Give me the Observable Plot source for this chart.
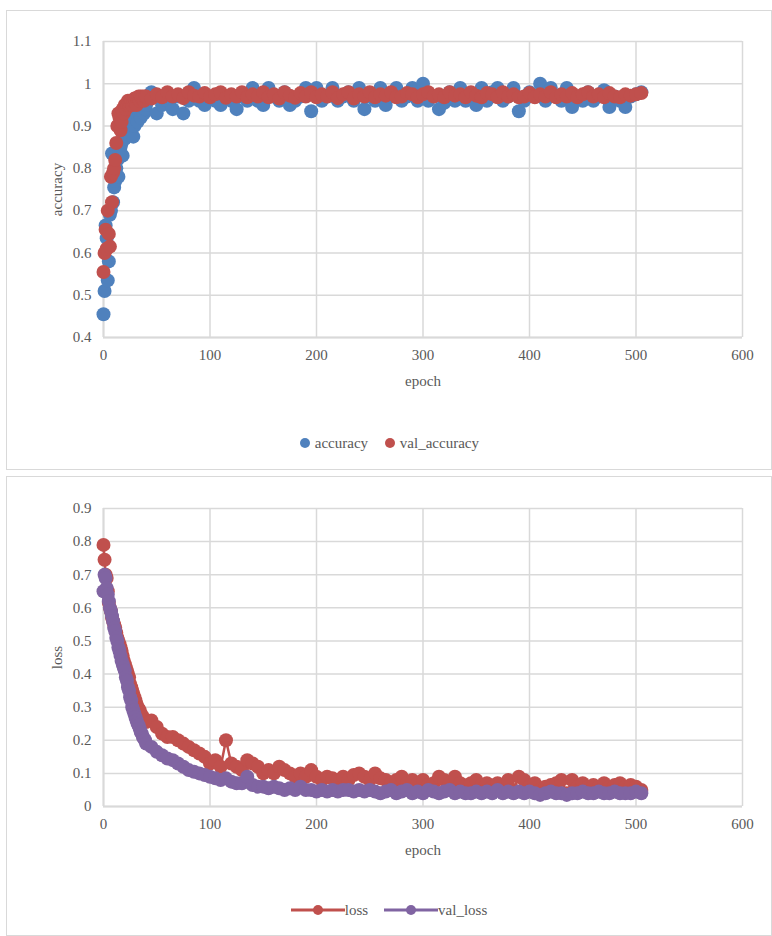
<!DOCTYPE html>
<html>
<head>
<meta charset="utf-8">
<script src="https://cdn.jsdelivr.net/npm/d3@7"></script>
<script src="https://cdn.jsdelivr.net/npm/@observablehq/plot@0.6"></script>
<style>
  body { margin: 0; background: #fff; font-family: "Liberation Serif", serif; color: #595959; }
  .box { position: absolute; left: 6px; width: 766px; height: 460px; border: 1px solid #d9d9d9; box-sizing: border-box; }
  .legend { position: absolute; left: 0; width: 100%; text-align: center; font-size: 15px; color: #595959; }
  .legend span { margin: 0 8px; }
  .box > svg { position: absolute; left: 0; top: 0; }
</style>
</head>
<body>
<div class="box" id="top" style="top:10px"></div>
<div class="box" id="bottom" style="top:476px"></div>
<script>
// epochs: every epoch up to 40, then every 5th
const epochs = d3.range(0, 41).concat(d3.range(45, 510, 5));

const accuracy = [0.455,0.51,0.665,0.635,0.535,0.58,0.69,0.70,0.835,0.72,0.755,0.77,0.80,0.82,0.78,0.84,0.85,0.86,0.83,0.88,0.87,0.90,0.89,0.91,0.88,0.90,0.91,0.92,0.875,0.90,0.93,0.92,0.91,0.94,0.93,0.92,0.94,0.95,0.93,0.94,0.95,
  0.98,0.93,0.95,0.96,0.94,0.97,0.93,0.96,0.99,0.96,
  0.95,0.97,0.96,0.95,0.97,0.96,0.94,0.97,0.96,0.99,
  0.96,0.95,0.99,0.97,0.96,0.98,0.95,0.96,0.97,0.99,
  0.935,0.99,0.96,0.97,0.99,0.96,0.97,0.98,0.96,0.99,
  0.94,0.97,0.96,0.99,0.95,0.97,0.99,0.96,0.97,0.99,
  0.96,1.0,0.96,0.97,0.94,0.955,0.98,0.96,0.99,0.96,
  0.97,0.95,0.99,0.96,0.98,0.99,0.96,0.97,0.99,0.935,
  0.96,0.98,0.97,1.0,0.96,0.99,0.97,0.96,0.99,0.945,
  0.97,0.96,0.98,0.96,0.97,0.985,0.945,0.97,0.96,0.945,
  0.97,0.975,0.98];

const val_accuracy = [0.555,0.60,0.655,0.61,0.70,0.645,0.615,0.78,0.72,0.79,0.80,0.82,0.86,0.90,0.93,0.92,0.89,0.91,0.94,0.93,0.95,0.94,0.95,0.96,0.95,0.955,0.96,0.95,0.96,0.965,0.96,0.95,0.965,0.97,0.96,0.97,0.965,0.97,0.96,0.97,0.97,
  0.965,0.975,0.968,0.98,0.97,0.975,0.966,0.98,0.972,0.97,
  0.978,0.968,0.975,0.98,0.967,0.975,0.97,0.98,0.968,0.975,
  0.97,0.98,0.968,0.975,0.965,0.98,0.972,0.967,0.978,0.97,
  0.98,0.968,0.975,0.97,0.98,0.966,0.975,0.98,0.965,0.975,
  0.97,0.98,0.968,0.975,0.972,0.98,0.968,0.97,0.978,0.975,
  0.968,0.975,0.98,0.97,0.975,0.968,0.98,0.972,0.975,0.968,
  0.98,0.972,0.968,0.978,0.975,0.968,0.98,0.97,0.975,0.968,
  0.97,0.978,0.968,0.975,0.97,0.98,0.968,0.975,0.97,0.978,
  0.968,0.975,0.98,0.97,0.975,0.968,0.978,0.97,0.968,0.975,
  0.972,0.975,0.978];

const loss = [0.79,0.745,0.70,0.69,0.65,0.615,0.60,0.59,0.57,0.56,0.55,0.54,0.525,0.51,0.50,0.49,0.48,0.47,0.455,0.44,0.43,0.42,0.41,0.40,0.39,0.37,0.36,0.35,0.34,0.33,0.32,0.31,0.30,0.295,0.29,0.28,0.275,0.27,0.26,0.26,0.255,
  0.26,0.24,0.22,0.21,0.21,0.20,0.19,0.18,0.17,0.16,
  0.15,0.13,0.14,0.12,0.20,0.13,0.12,0.11,0.14,0.13,
  0.12,0.10,0.11,0.10,0.12,0.11,0.10,0.09,0.10,0.09,
  0.11,0.09,0.08,0.09,0.085,0.08,0.09,0.08,0.095,0.10,
  0.09,0.08,0.10,0.085,0.08,0.07,0.08,0.09,0.07,0.08,
  0.07,0.08,0.065,0.07,0.09,0.08,0.07,0.09,0.07,0.06,
  0.07,0.08,0.065,0.07,0.06,0.07,0.06,0.08,0.05,0.09,
  0.08,0.06,0.07,0.05,0.06,0.065,0.07,0.08,0.04,0.08,
  0.06,0.07,0.06,0.065,0.06,0.07,0.06,0.065,0.07,0.06,
  0.065,0.06,0.05];

const val_loss = [0.65,0.70,0.69,0.66,0.64,0.62,0.60,0.59,0.575,0.56,0.54,0.53,0.51,0.50,0.48,0.47,0.455,0.44,0.43,0.42,0.41,0.39,0.38,0.36,0.35,0.33,0.32,0.30,0.29,0.28,0.27,0.26,0.25,0.245,0.235,0.225,0.22,0.21,0.205,0.20,0.19,
  0.18,0.165,0.155,0.145,0.14,0.13,0.12,0.11,0.105,0.10,
  0.095,0.09,0.085,0.08,0.085,0.075,0.07,0.07,0.09,0.065,
  0.06,0.06,0.055,0.06,0.055,0.05,0.055,0.05,0.06,0.05,
  0.05,0.045,0.05,0.045,0.05,0.045,0.05,0.05,0.045,0.05,
  0.045,0.05,0.045,0.04,0.045,0.05,0.04,0.045,0.05,0.04,
  0.045,0.04,0.05,0.045,0.04,0.045,0.05,0.04,0.045,0.04,
  0.04,0.045,0.04,0.045,0.04,0.05,0.04,0.045,0.04,0.045,
  0.04,0.045,0.04,0.035,0.04,0.045,0.04,0.04,0.035,0.04,
  0.04,0.045,0.04,0.04,0.045,0.04,0.04,0.045,0.04,0.04,
  0.04,0.045,0.04];

const xTicks = [0, 100, 200, 300, 400, 500, 600];
const accTicks = [0.4, 0.5, 0.6, 0.7, 0.8, 0.9, 1, 1.1];
const lossTicks = [0, 0.1, 0.2, 0.3, 0.4, 0.5, 0.6, 0.7, 0.8, 0.9];

const blue = "#4f81bd", red = "#c0504d", purple = "#8064a2", grid = "#d9d9d9";

function rows(vals) { return epochs.map((e, i) => ({epoch: e, v: vals[i]})); }

function chart(opts) {
  return Plot.plot({
    width: 764, height: opts.height,
    marginLeft: 96, marginRight: 29, marginTop: opts.marginTop, marginBottom: opts.marginBottom,
    style: {fontFamily: "Liberation Serif, serif", fontSize: "15px", color: "#595959", background: "transparent"},
    x: {domain: [0, 600], ticks: xTicks, tickSize: 0, tickPadding: 12, label: "epoch", labelAnchor: "center", labelArrow: "none", labelOffset: 48},
    y: {domain: opts.domain, ticks: opts.ticks, tickSize: 0, tickPadding: 12, tickFormat: d => String(+d.toFixed(1)), label: opts.ylabel, labelAnchor: "center", labelArrow: "none", labelOffset: 52},
    marks: [
      Plot.gridX(xTicks, {stroke: grid, strokeOpacity: 1, strokeWidth: 1.5}),
      Plot.gridY(opts.ticks, {stroke: grid, strokeOpacity: 1, strokeWidth: 1.5}),
      Plot.ruleX([0], {stroke: grid, strokeWidth: 2}),
      Plot.ruleY([opts.domain[0]], {stroke: grid, strokeWidth: 2}),
      ...opts.marks
    ]
  });
}

const accChart = chart({
  height: 400, marginTop: 30, marginBottom: 74, domain: [0.4, 1.1], ticks: accTicks, ylabel: "accuracy",
  marks: [
    Plot.dot(rows(accuracy), {x: "epoch", y: "v", r: 7, fill: blue}),
    Plot.dot(rows(val_accuracy), {x: "epoch", y: "v", r: 7, fill: red})
  ]
});
document.getElementById("top").append(accChart);

const lossChart = chart({
  height: 400, marginTop: 31, marginBottom: 71, domain: [0, 0.9], ticks: lossTicks, ylabel: "loss",
  marks: [
    Plot.line(rows(loss), {x: "epoch", y: "v", stroke: red, strokeWidth: 2.5}),
    Plot.dot(rows(loss), {x: "epoch", y: "v", r: 7, fill: red}),
    Plot.line(rows(val_loss), {x: "epoch", y: "v", stroke: purple, strokeWidth: 2.5}),
    Plot.dot(rows(val_loss), {x: "epoch", y: "v", r: 7, fill: purple})
  ]
});
document.getElementById("bottom").append(lossChart);

// Excel-style legends
const lt = document.createElement("div");
lt.className = "legend"; lt.style.top = "424px";
lt.innerHTML = `<span><svg width="12" height="12" style="vertical-align:-1px"><circle cx="6" cy="6" r="5" fill="${blue}"/></svg> accuracy</span>` +
  `<span><svg width="12" height="12" style="vertical-align:-1px"><circle cx="6" cy="6" r="5" fill="${red}"/></svg> val_accuracy</span>`;
document.getElementById("top").append(lt);

const lb = document.createElement("div");
lb.className = "legend"; lb.style.top = "425px";
const sw = c => `<svg width="54" height="12" style="vertical-align:-1px"><line x1="0" x2="54" y1="6" y2="6" stroke="${c}" stroke-width="3"/><circle cx="27" cy="6" r="5" fill="${c}"/></svg>`;
lb.innerHTML = `<span>${sw(red)}loss</span><span>${sw(purple)}val_loss</span>`;
document.getElementById("bottom").append(lb);
</script>
</body>
</html>
